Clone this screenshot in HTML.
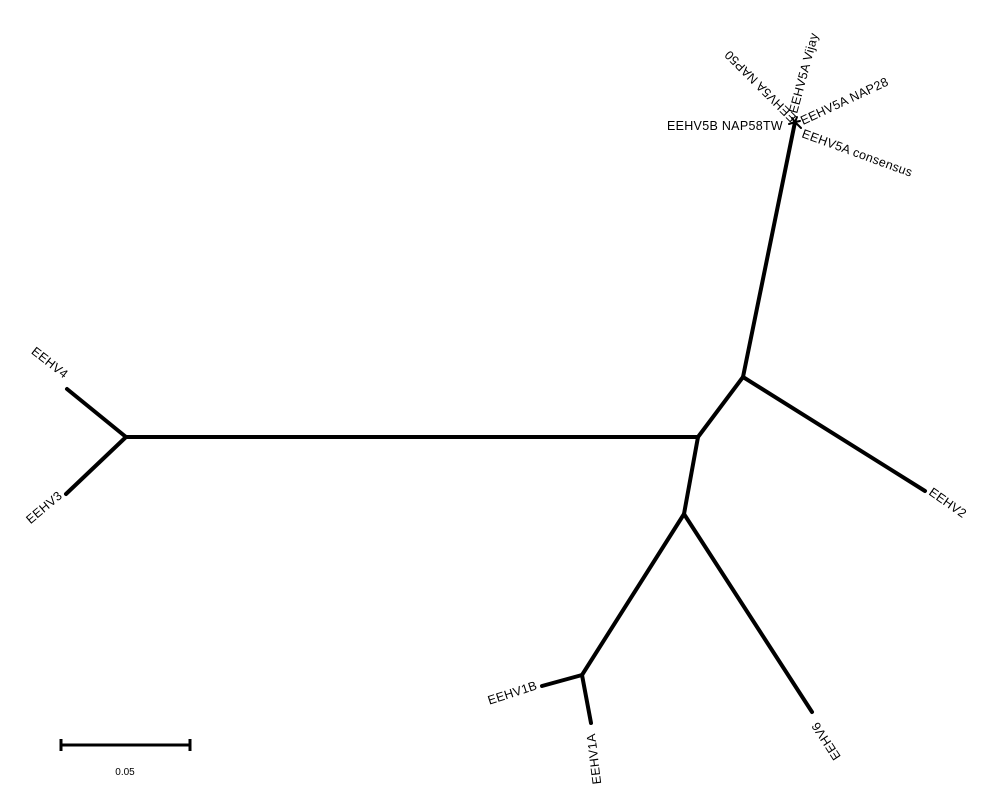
<!DOCTYPE html>
<html><head><meta charset="utf-8"><style>
html,body{margin:0;padding:0;background:#fff;}
svg{display:block;font-family:"Liberation Sans",Arial,sans-serif;}
text{font-size:12.5px;fill:#000;letter-spacing:0.3px;}
</style></head><body>
<svg id="tree" width="992" height="812" viewBox="0 0 992 812" xmlns="http://www.w3.org/2000/svg">
<g id="edges"></g>
<g id="labels"></g>
<g>
<line x1="60" y1="745" x2="191" y2="745" stroke="#000" stroke-width="3"/>
<line x1="61" y1="739" x2="61" y2="751" stroke="#000" stroke-width="3"/>
<line x1="190" y1="739" x2="190" y2="751" stroke="#000" stroke-width="3"/>
<text x="125" y="775" text-anchor="middle" style="font-size:10px;letter-spacing:0">0.05</text>
</g>
</svg>
<script>
const nodeNames = ["A","B","C","D","E","T","EEHV4","EEHV3","EEHV2","EEHV6","EEHV1B","EEHV1A","t5B","t5Acons","t5ANAP28","t5AVijay","t5ANAP50"];
const nodeX = [126,698,743,684,582,795,67,66,925,812,542,591,789,801,800,797,792];
const nodeY = [437,437,377,514,675,122,389,494,491,712,686,723,124,128,121,117,118];
const edgeFrom = ["A","A","A","B","B","C","C","D","D","E","E","T","T","T","T","T"];
const edgeTo = ["EEHV4","EEHV3","B","C","D","T","EEHV2","E","EEHV6","EEHV1B","EEHV1A","t5B","t5Acons","t5ANAP28","t5AVijay","t5ANAP50"];
const labelText = ["EEHV4","EEHV3","EEHV2","EEHV6","EEHV1B","EEHV1A","EEHV5B NAP58TW","EEHV5A consensus","EEHV5A NAP28","EEHV5A Vijay","EEHV5A NAP50"];
const labelX = [64,63,928,818,538,595,783,801,803,797,797];
const labelY = [379,497,494,721,689,733,130,137,125,114,117];
const labelRot = [38,-40,35,237,-18,-97,0,20,-25,-75,225];
const labelAnchor = ["end","end","start","end","end","end","end","start","start","start","start"];
const ns="http://www.w3.org/2000/svg";
const idx = n => nodeNames.indexOf(n);
const eg=document.getElementById('edges');
for(let i=0;i<edgeFrom.length;i++){
  const a=idx(edgeFrom[i]), b=idx(edgeTo[i]);
  const l=document.createElementNS(ns,'line');
  l.setAttribute('x1',nodeX[a]);l.setAttribute('y1',nodeY[a]);
  l.setAttribute('x2',nodeX[b]);l.setAttribute('y2',nodeY[b]);
  l.setAttribute('stroke','#000');
  l.setAttribute('stroke-width', edgeFrom[i]==="T"?2:4);
  l.setAttribute('stroke-linecap','round');
  
  
  eg.appendChild(l);
}
const lg=document.getElementById('labels');
for(let i=0;i<labelText.length;i++){
  const t=document.createElementNS(ns,'text');
  t.setAttribute('x',labelX[i]);t.setAttribute('y',labelY[i]);
  t.setAttribute('text-anchor',labelAnchor[i]);
  t.setAttribute('transform','rotate('+labelRot[i]+' '+labelX[i]+' '+labelY[i]+')');
  t.textContent=labelText[i];
  
  
  lg.appendChild(t);
}
</script>
</body></html>
